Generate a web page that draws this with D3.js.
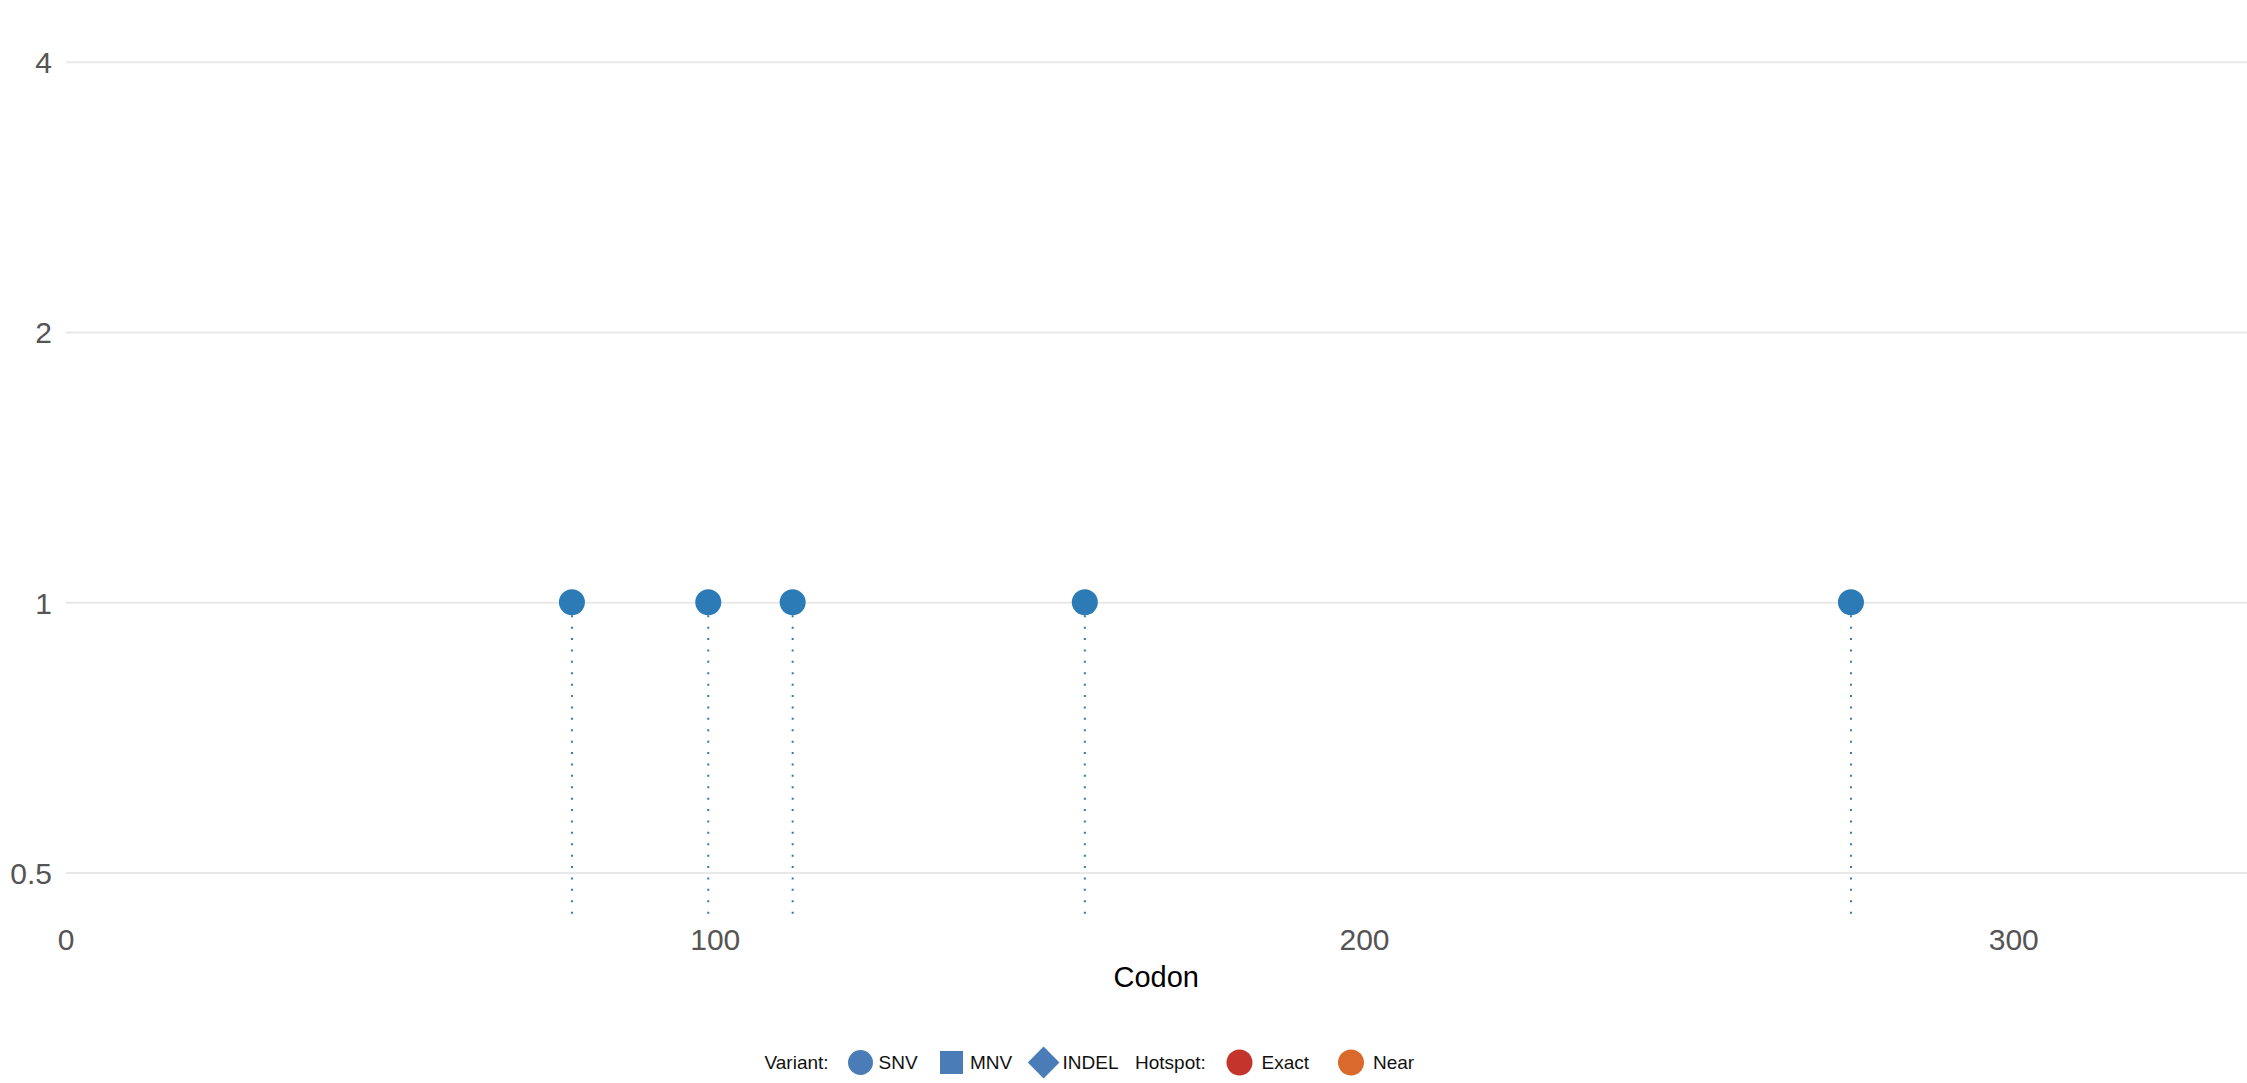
<!DOCTYPE html>
<html>
<head>
<meta charset="utf-8">
<script src="https://cdn.jsdelivr.net/npm/d3@7"></script>
<style>
  html, body { margin: 0; padding: 0; background: #fff; }
  svg { display: block; }
</style>
</head>
<body>
<svg id="chart" width="2247" height="1083"></svg>
<script>
// ---- data ----
const codons = [78, 99, 112, 157, 275];
const counts = [1, 1, 1, 1, 1];
const variantTypes = ["SNV", "SNV", "SNV", "SNV", "SNV"];
const xTicks = [0, 100, 200, 300];
const yTicks = [0.5, 1, 2, 4];
const yTickLabels = ["0.5", "1", "2", "4"];
const xDomain = [0, 336];
const xTitle = "Codon";
const legendVariant = ["SNV", "MNV", "INDEL"];
const legendHotspot = ["Exact", "Near"];

// ---- layout ----
const left = 65.5, right = 2247;
const plotBottom = 915;
const svg = d3.select("#chart");
const font = "'Liberation Sans', Arial, Helvetica, sans-serif";

const x = d3.scaleLinear().domain(xDomain).range([left, right]);
const y = d3.scaleLog().base(2).domain([0.5, 4]).range([872.5, 61.7]);

// y gridlines + labels
const yAxis = d3.axisLeft(y).tickValues(yTicks)
  .tickFormat((d, i) => yTickLabels[i])
  .tickSize(right - 66).tickPadding(14);
const gy = svg.append("g").attr("transform", `translate(${right},0)`).call(yAxis);
gy.select(".domain").remove();
gy.selectAll(".tick line").attr("stroke", "#e8e8e8").attr("stroke-width", 2);
gy.selectAll(".tick text")
  .attr("font-family", font).attr("font-size", 30).attr("fill", "#555")
  .attr("dy", null).attr("y", 11);

// x labels
const xAxis = d3.axisBottom(x).tickValues(xTicks).tickSize(0).tickPadding(0);
const gx = svg.append("g").attr("transform", `translate(0,950)`).call(xAxis);
gx.select(".domain").remove();
gx.selectAll(".tick text")
  .attr("font-family", font).attr("font-size", 30).attr("fill", "#555")
  .attr("dy", null).attr("y", 0);

svg.append("text")
  .attr("x", (left + right) / 2).attr("y", 987)
  .attr("text-anchor", "middle")
  .attr("font-family", font).attr("font-size", 29).attr("fill", "#000")
  .text(xTitle);

// lollipops
const data = codons.map((c, i) => ({ codon: c, count: counts[i], type: variantTypes[i] }));
const r = 13;
const blue = "#2c7bb6";
svg.append("g").selectAll("line").data(data).join("line")
  .attr("x1", d => x(d.codon)).attr("x2", d => x(d.codon))
  .attr("y1", d => y(d.count) + r).attr("y2", plotBottom)
  .attr("stroke", blue).attr("stroke-width", 2)
  .attr("stroke-dasharray", "2,9.4");
svg.append("g").selectAll("circle").data(data).join("circle")
  .attr("cx", d => x(d.codon)).attr("cy", d => y(d.count)).attr("r", r)
  .attr("fill", blue);

// legend
const lg = svg.append("g").attr("transform", "translate(0,1062.5)");
const lfont = 19;
function ltext(xp, t) {
  lg.append("text").attr("x", xp).attr("y", 6.8)
    .attr("font-family", font).attr("font-size", lfont).attr("fill", "#111").text(t);
}
const lblue = "#4a7cb8";
ltext(764.5, "Variant:");
lg.append("circle").attr("cx", 860.5).attr("cy", 0).attr("r", 12.5).attr("fill", lblue);
ltext(878.5, legendVariant[0]);
lg.append("rect").attr("x", 940).attr("y", -11.5).attr("width", 23).attr("height", 23).attr("fill", lblue);
ltext(970, legendVariant[1]);
lg.append("path").attr("d", "M1043.6,-16 L1059.4,0 L1043.6,16 L1027.8,0 Z").attr("fill", lblue);
ltext(1062.5, legendVariant[2]);
ltext(1135, "Hotspot:");
lg.append("circle").attr("cx", 1239.5).attr("cy", 0).attr("r", 13).attr("fill", "#c4342c");
ltext(1261.5, legendHotspot[0]);
lg.append("circle").attr("cx", 1351).attr("cy", 0).attr("r", 13).attr("fill", "#d96a2b");
ltext(1373, legendHotspot[1]);
</script>
</body>
</html>
